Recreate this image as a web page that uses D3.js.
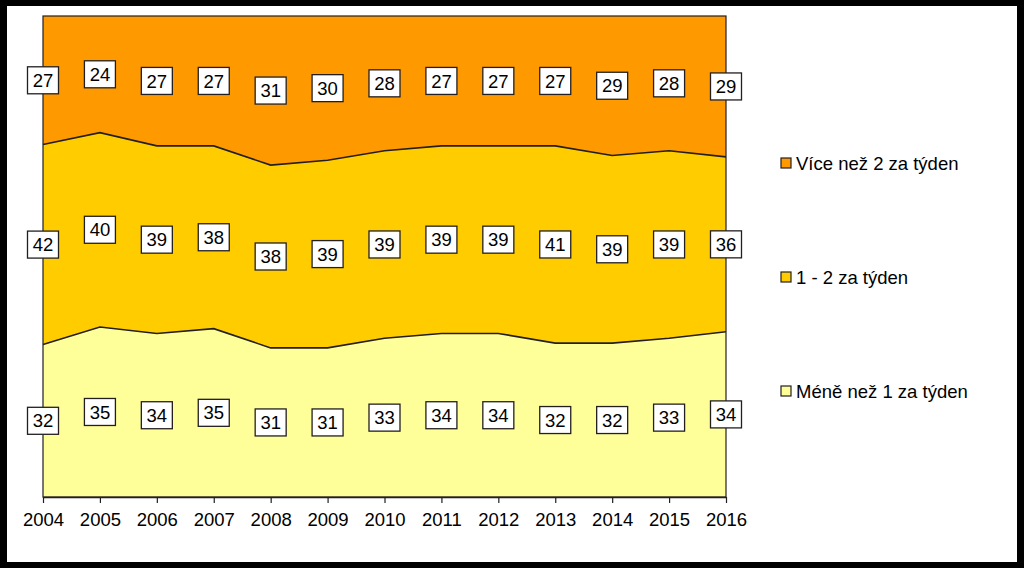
<!DOCTYPE html>
<html><head><meta charset="utf-8">
<script src="https://cdn.jsdelivr.net/npm/d3@7"></script>
<style>body{margin:0;background:#000;} svg{display:block;}</style>
</head><body>
<svg id="chart" width="1024" height="568"></svg>
<script>
const years = [2004,2005,2006,2007,2008,2009,2010,2011,2012,2013,2014,2015,2016];
const seriesNames = ["Méně než 1 za týden","1 - 2 za týden","Více než 2 za týden"];
const lessThan1 = [32,35,34,35,31,31,33,34,34,32,32,33,34];
const oneToTwo = [42,40,39,38,38,39,39,39,39,41,39,39,36];
const moreThan2 = [27,24,27,27,31,30,28,27,27,27,29,28,29];
const colors = ["#FFFF99","#FFCC00","#FF9900"];

const keys = ["a","b","c"];
const rows = years.map((y,i)=>({year:y,a:lessThan1[i],b:oneToTwo[i],c:moreThan2[i]}));
const FS = 18.5;
const FONT = "Liberation Sans, Arial, sans-serif";

const svg = d3.select("#chart");
svg.append("rect").attr("x",0).attr("y",0).attr("width",1024).attr("height",568).attr("fill","#000");
svg.append("rect").attr("x",7).attr("y",6).attr("width",1010).attr("height",556).attr("fill","#fff");

const L=43, R=726, T=16, B=497;
const x = d3.scalePoint().domain(years).range([L,R]);
const y = d3.scaleLinear().domain([0,1]).range([B,T]);

const stack = d3.stack().keys(keys).offset(d3.stackOffsetExpand);
const series = stack(rows);

const area = d3.area().x(d=>x(d.data.year)).y0(d=>y(d[0])).y1(d=>y(d[1]));
const line = d3.line().x(d=>x(d.data.year)).y(d=>y(d[1]));

svg.selectAll("path.area").data(series).join("path")
  .attr("class","area").attr("d",area).attr("fill",(d,i)=>colors[i]);

svg.selectAll("path.bound").data(series.slice(0,2)).join("path")
  .attr("class","bound").attr("d",line).attr("fill","none")
  .attr("stroke","#231f20").attr("stroke-width",1.6);

svg.append("rect").attr("x",L).attr("y",T).attr("width",R-L).attr("height",B-T)
  .attr("fill","none").attr("stroke","#231f20").attr("stroke-width",1.2);

const ax = svg.append("g").attr("transform",`translate(0,${B})`)
  .call(d3.axisBottom(x).tickSize(6).tickSizeOuter(0));
ax.select(".domain").attr("stroke","#231f20").attr("stroke-width",1.5);
ax.selectAll(".tick line").attr("stroke","#231f20").attr("stroke-width",1.2);
ax.selectAll(".tick text").attr("font-family",FONT)
  .attr("font-size",FS).attr("fill","#000").attr("dy","1.1em");

const labels = [];
series.forEach((s,si)=>{
  s.forEach((d,i)=>{
    labels.push({x:x(d.data.year), y:(y(d[0])+y(d[1]))/2, v:[lessThan1,oneToTwo,moreThan2][si][i]});
  });
});
const lg = svg.append("g").selectAll("g").data(labels).join("g")
  .attr("transform",d=>`translate(${d.x},${d.y})`);
lg.append("rect").attr("x",-15.5).attr("y",-13.5).attr("width",31).attr("height",27)
  .attr("fill","#fff").attr("stroke","#231f20").attr("stroke-width",1.3);
lg.append("text").text(d=>d.v).attr("text-anchor","middle").attr("dy","0.36em")
  .attr("font-family",FONT).attr("font-size",FS).attr("fill","#000");

const legendY = [391,277,163];
const leg = svg.append("g").selectAll("g").data(seriesNames).join("g")
  .attr("transform",(d,i)=>`translate(781,${legendY[i]})`);
leg.append("rect").attr("x",0).attr("y",-5).attr("width",10).attr("height",10)
  .attr("fill",(d,i)=>colors[i]).attr("stroke","#231f20").attr("stroke-width",1.2);
leg.append("text").text(d=>d).attr("x",15).attr("dy","0.36em")
  .attr("font-family",FONT).attr("font-size",FS).attr("fill","#000");
</script>
</body></html>
